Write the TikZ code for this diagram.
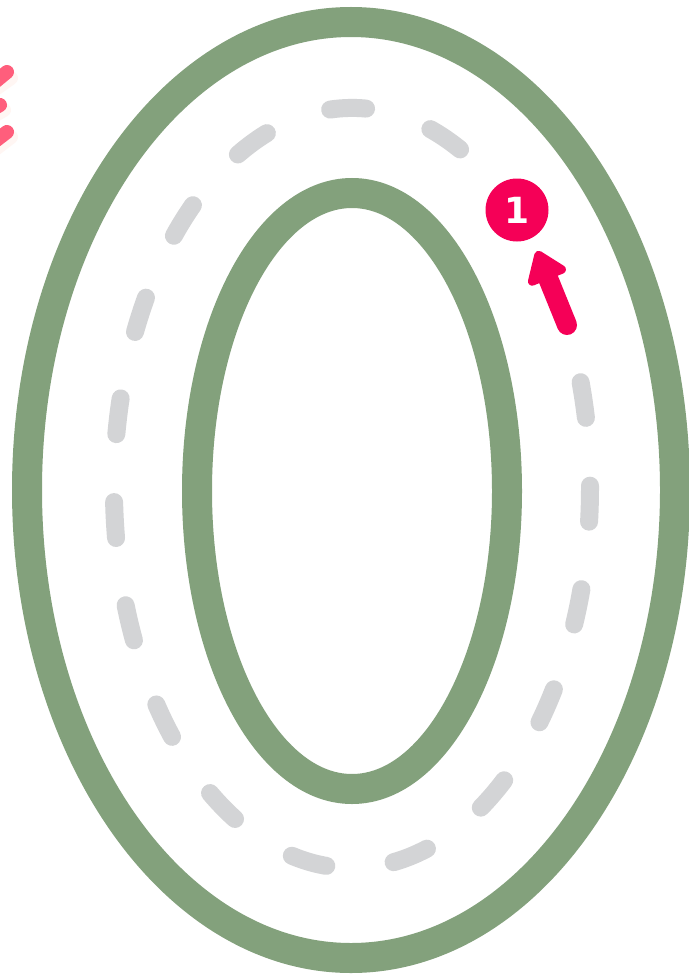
\documentclass[tikz,border=0pt]{standalone}
\usepackage{fontspec}
\newfontfamily\numfont{DejaVu Sans}
\usetikzlibrary{arrows.meta,calc}
\definecolor{rimgreen}{RGB}{131,161,124}
\definecolor{dashgray}{RGB}{211,212,214}
\definecolor{hotpink}{RGB}{245,0,87}
\definecolor{markpink}{RGB}{255,94,124}
\definecolor{markshade}{RGB}{255,246,243}
\tikzset{
  rim/.style={draw=rimgreen, line width=30pt},
  track/.style={draw=dashgray, line width=18pt, line cap=round, dash pattern=on 36pt off 68pt},
  badge/.style={circle, fill=hotpink, minimum size=63pt, inner sep=0pt, text=white, font=\numfont\bfseries\fontsize{36}{36}\selectfont},
  movearrow/.style={draw=hotpink, line width=20pt, line cap=round, -{Triangle[round, width=46pt, length=34pt]}},
  pinkstroke/.style={draw=markpink, line width=14pt, line cap=round},
  pinkshadow/.style={draw=markshade, line width=14pt, line cap=round}
}
\begin{document}
\begin{tikzpicture}[x=1pt,y=-1pt]
\useasboundingbox (0,0) rectangle (688,979);
\fill[white] (0,0) rectangle (688,979);
\coordinate (c) at (351,490);
% outer and inner rims
\draw[rim] (c) ellipse [x radius=324pt, y radius=468pt];
\draw[rim] (352,491) ellipse [x radius=155pt, y radius=298pt];
% dashed track
\coordinate (tc) at (352,488);
\draw[track] (tc) ++(63:238pt and 380pt) arc[start angle=63, end angle=378, x radius=238pt, y radius=380pt];
% badge and arrow
\node[badge] (n1) at (517,210) {1};
\coordinate (tail) at (567,325);
\coordinate (tip) at (537,251);
\draw[movearrow] (tail) -- (tip);
% pink marks at left edge
\draw[pinkshadow] (-6,90) -- (11,78);
\draw[pinkshadow] (-8,117) -- (4,110);
\draw[pinkshadow] (-6,150) -- (11,137);
\draw[pinkstroke] (-10,86) -- (7,72);
\draw[pinkstroke] (-12,112) -- (0,105);
\draw[pinkstroke] (-10,145) -- (7,132);
\end{tikzpicture}
\end{document}
